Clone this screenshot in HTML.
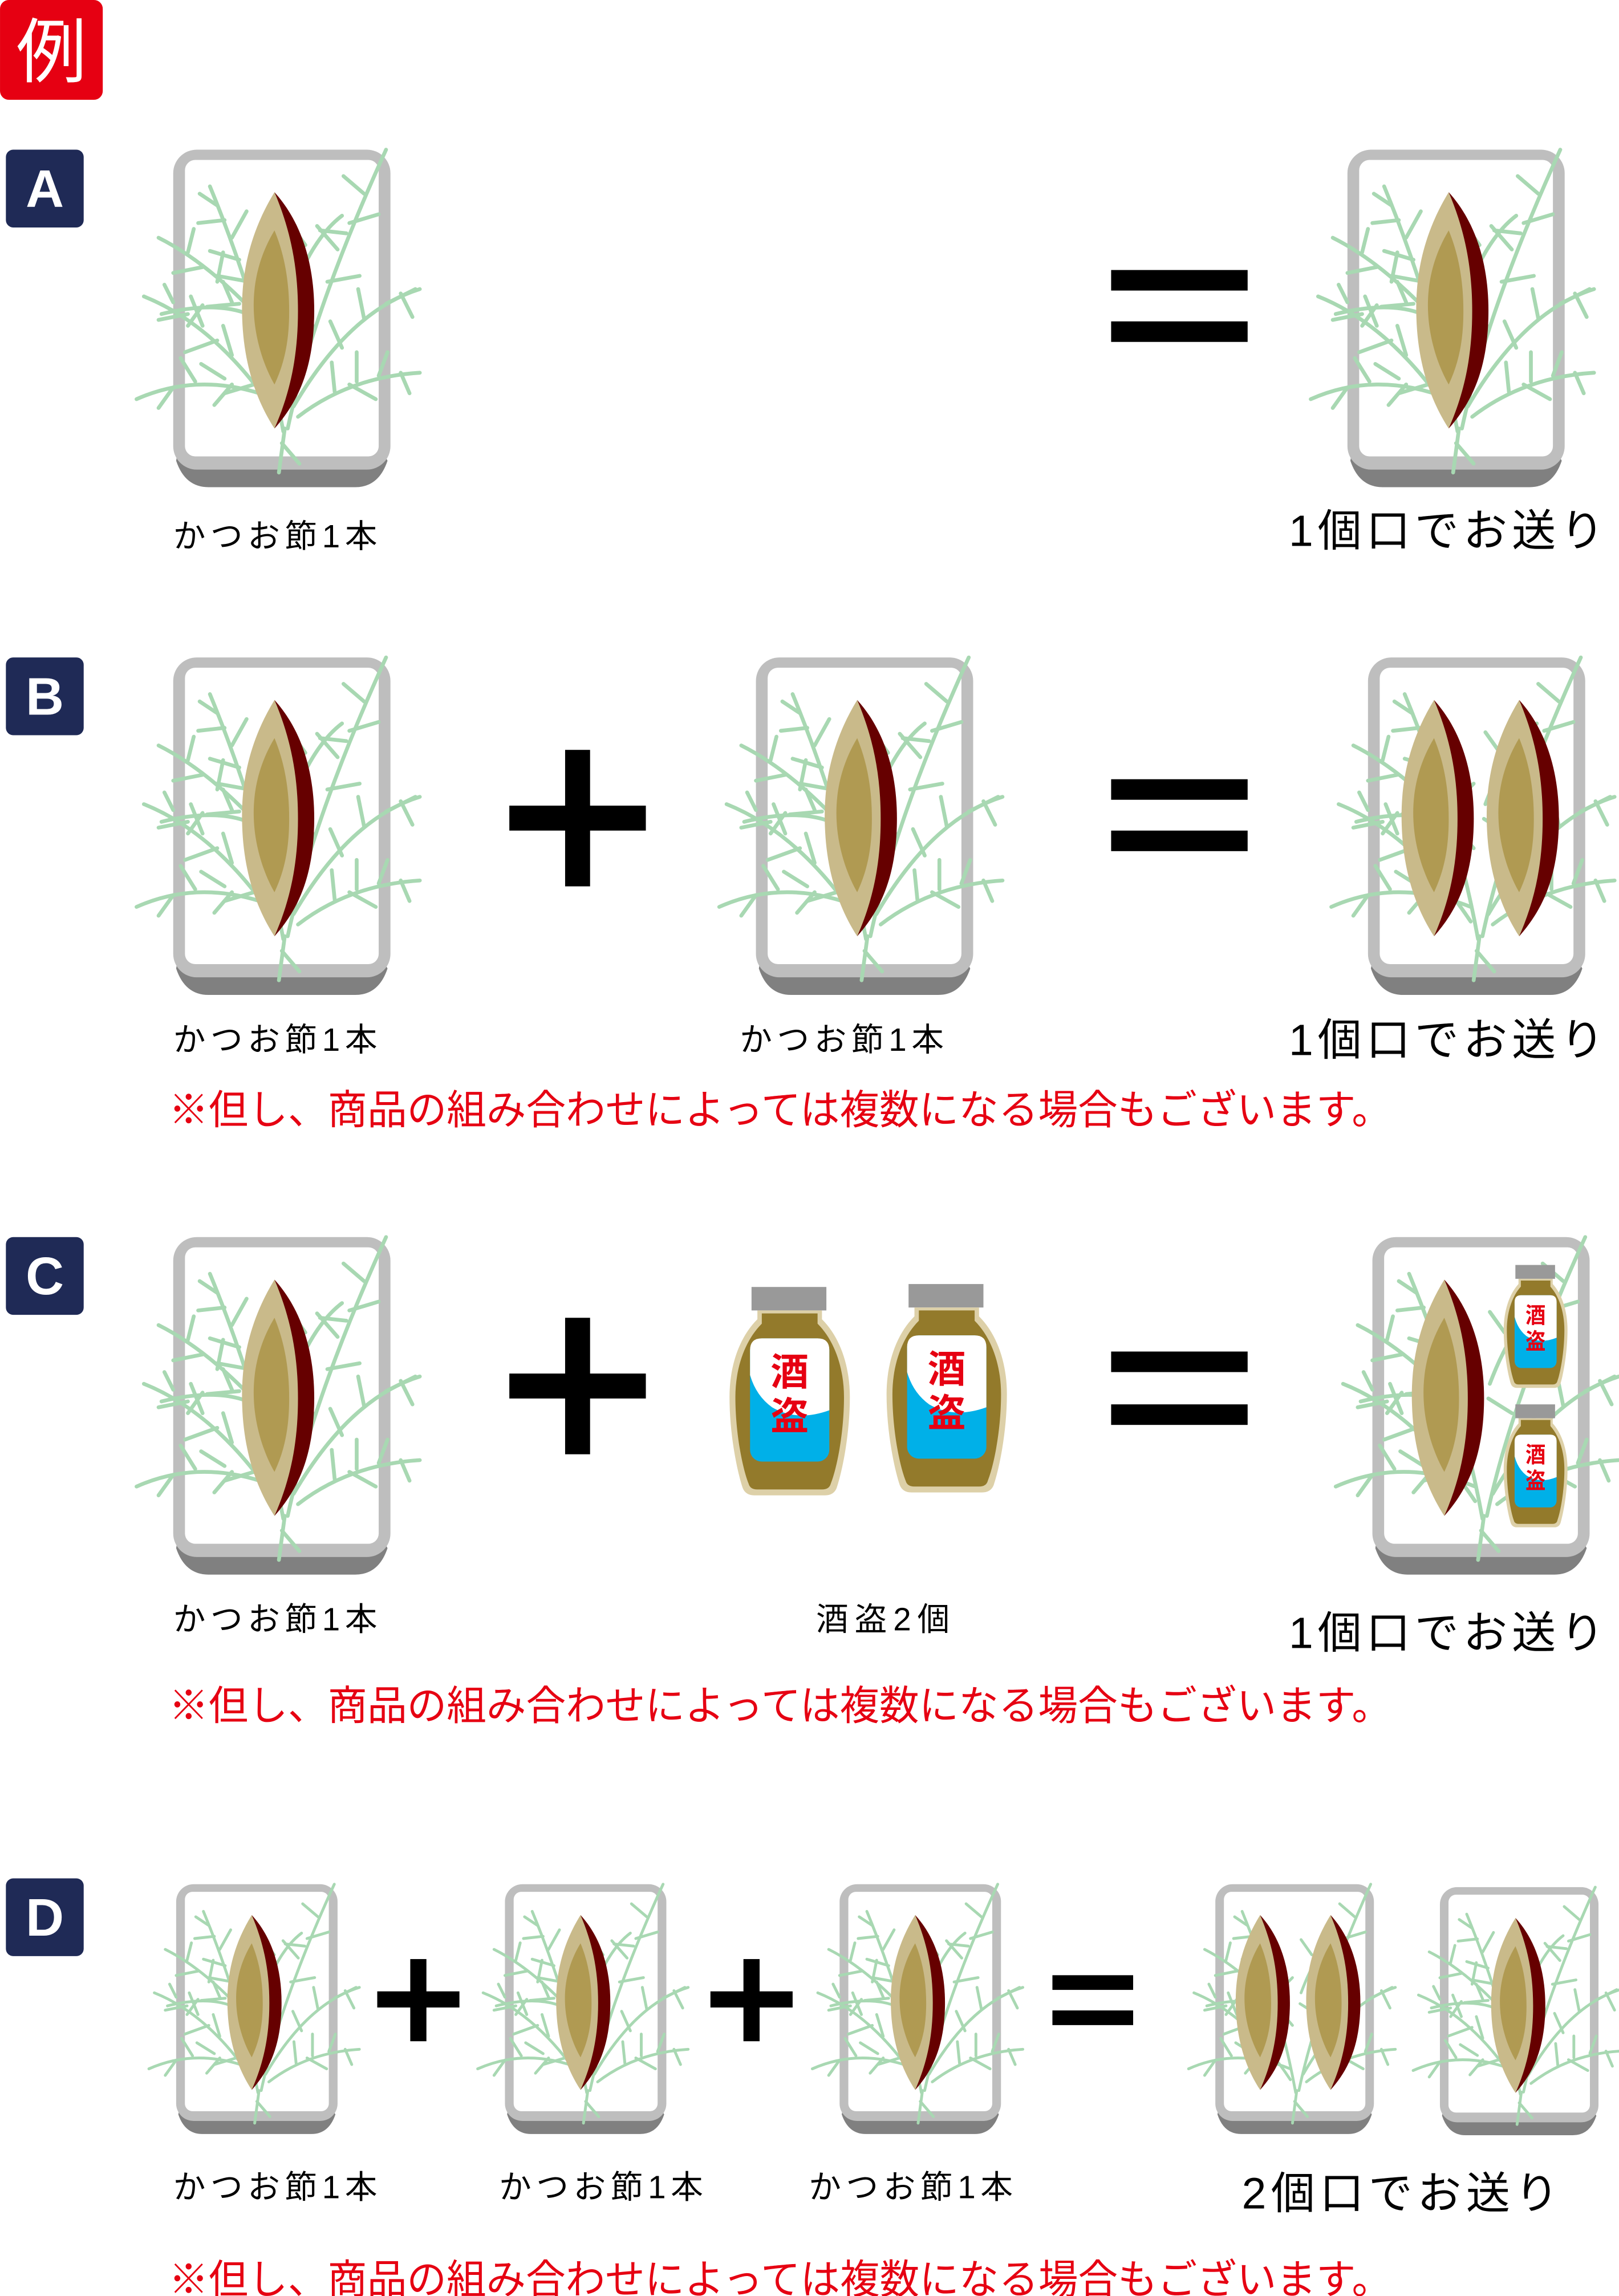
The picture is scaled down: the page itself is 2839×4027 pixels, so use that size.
<!DOCTYPE html>
<html><head><meta charset="utf-8"><style>
html,body{margin:0;padding:0;background:#fff;}
svg{display:block;}
text{font-family:"Liberation Sans","Noto Sans CJK JP",sans-serif;}
</style></head><body>
<svg width="2839" height="4027" viewBox="0 0 1103 1564.6" xmlns="http://www.w3.org/2000/svg">
<defs>
<g id="grass" fill="none" stroke="#A8D8B2" stroke-width="2.6" stroke-linecap="round">
  <path d="M75,192 Q60,110 25,25"/>
  <path d="M45,75 l-20,-6 M40,60 l10,-18 M35,48 l-18,2 M58,100 l14,-14 M30,38 l-12,-8 M52,90 l-22,-4"/>
  <path d="M70,180 Q30,120 -20,100"/>
  <path d="M20,120 l-8,-20 M10,112 l-20,4 M40,140 l-6,-20 M30,130 l-22,8 M55,160 l-20,6 M0,104 l-6,-12"/>
  <path d="M70,170 Q20,150 -25,170"/>
  <path d="M15,158 l-10,-16 M0,162 l-10,14 M35,156 l-16,-10 M40,160 l-12,14"/>
  <path d="M72,130 Q30,80 -10,60"/>
  <path d="M20,80 l-20,4 M30,90 l4,-20 M45,105 l-22,2 M10,70 l4,-16"/>
  <path d="M65,120 Q40,100 -8,112"/>
  <path d="M20,106 l-10,14 M40,104 l-6,-14"/>
  <path d="M78,190 Q95,110 145,0"/>
  <path d="M120,50 l20,-6 M112,68 l-14,-16 M130,30 l-14,-12 M105,90 l22,-4 M95,120 l-16,-10"/>
  <path d="M82,175 Q120,110 168,95"/>
  <path d="M130,115 l-4,-20 M145,105 l20,-10 M115,135 l-8,-18 M155,98 l8,16"/>
  <path d="M85,182 Q120,155 168,152"/>
  <path d="M110,165 l-2,-20 M125,158 l0,-20 M140,154 l6,-16 M155,152 l6,14 M120,160 l18,10"/>
  <path d="M80,100 Q95,60 115,45"/>
  <path d="M90,65 l-10,-14 M100,55 l18,2"/>
  <path d="M76,190 l-4,30 M74,200 l12,14"/>
</g>
<g id="tray">
  <path d="M4,200 L140,200 L146,212 Q140,230 124,230 L24,230 Q8,230 2,212 Z" fill="#808080"/>
  <rect x="0" y="0" width="148" height="218" rx="16" fill="#BEBEBE"/>
  <rect x="8" y="7" width="132" height="202" rx="7" fill="#fff"/>
  <use href="#grass"/>
</g>
<g id="lens">
  <path d="M22,0 C41,21 50,51 49,86 C48,121 38,143 22,161 Z" fill="#660000"/>
  <path d="M22,0 C3,31 -1,61 0,86 C1,116 9,141 22,161 C33,136 38,111 38,81 C38,51 33,26 22,0Z" fill="#C9BA8A"/>
  <path d="M22,26 C10,46 7,66 8,83 C9,101 15,119 22,131 C29,116 32,101 32,81 C32,61 29,43 22,26Z" fill="#B09A52"/>
</g>
<g id="bottle">
  <rect x="14" y="0" width="51" height="16" fill="#999"/>
  <path d="M18,16 L62,16 L62,22 C75,35 81,55 81,75 C81,100 76,125 72,137 Q70,142 64,142 L16,142 Q10,142 8,137 C4,125 -1,100 -1,75 C-1,55 5,35 18,22 Z" fill="#DDD0A8"/>
  <path d="M21,18 L59,18 L59,25 C71,37 77,56 77,75 C77,100 72,124 68,134 Q67,138 62,138 L18,138 Q13,138 12,134 C8,124 3,100 3,75 C3,56 9,37 21,25 Z" fill="#937A2B"/>
  <rect x="13" y="35" width="54" height="84" rx="8" fill="#00B0E8"/>
  <path d="M21,35 L59,35 Q67,35 67,43 L67,84 Q45,92 28,82 Q17,74 13,60 L13,43 Q13,35 21,35Z" fill="#fff"/>
  <text x="40" y="67" font-size="26" fill="#E60012" text-anchor="middle" font-weight="bold">酒</text>
  <text x="40" y="97" font-size="26" fill="#E60012" text-anchor="middle" font-weight="bold">盗</text>
</g>
</defs>

<rect x="0" y="0" width="70" height="68" rx="6" fill="#E60012"/>
<text x="35" y="52" font-size="48" fill="#fff" text-anchor="middle">例</text>
<g font-size="36" font-weight="bold" fill="#fff" text-anchor="middle">
<rect x="4" y="102" width="53" height="53" rx="5" fill="#1F2A56"/><text x="30.5" y="141">A</text>
<rect x="4" y="448" width="53" height="53" rx="5" fill="#1F2A56"/><text x="30.5" y="487">B</text>
<rect x="4" y="843" width="53" height="53" rx="5" fill="#1F2A56"/><text x="30.5" y="882">C</text>
<rect x="4" y="1280" width="53" height="53" rx="5" fill="#1F2A56"/><text x="30.5" y="1319">D</text>
</g>

<use href="#tray" x="118" y="102"/><use href="#lens" x="165" y="131"/>
<rect x="757" y="184" width="93" height="14" fill="#000"/><rect x="757" y="219" width="93" height="14" fill="#000"/>
<use href="#tray" x="918" y="102"/><use href="#lens" x="965" y="131"/>

<use href="#tray" x="118" y="448"/><use href="#lens" x="165" y="477"/>
<rect x="347" y="549" width="93" height="17" fill="#000"/><rect x="385" y="511" width="17" height="93" fill="#000"/>
<use href="#tray" x="515" y="448"/><use href="#lens" x="562" y="477"/>
<rect x="757" y="531" width="93" height="14" fill="#000"/><rect x="757" y="566" width="93" height="14" fill="#000"/>
<use href="#tray" x="932" y="448"/><use href="#lens" x="955" y="477"/><use href="#lens" x="1013" y="477"/>

<use href="#tray" x="118" y="843"/><use href="#lens" x="165" y="872"/>
<rect x="347" y="936" width="93" height="17" fill="#000"/><rect x="385" y="898" width="17" height="93" fill="#000"/>
<use href="#bottle" x="498" y="877"/><use href="#bottle" x="605" y="875"/>
<rect x="757" y="921" width="93" height="14" fill="#000"/><rect x="757" y="957" width="93" height="14" fill="#000"/>
<use href="#tray" x="935" y="843"/><use href="#lens" x="962" y="872"/>
<use href="#bottle" transform="translate(1025,862) scale(0.53,0.59)"/>
<use href="#bottle" transform="translate(1025,957) scale(0.53,0.59)"/>

<use href="#tray" transform="translate(120,1284) scale(0.743,0.74)"/><use href="#lens" transform="translate(155,1305) scale(0.75,0.74)"/>
<rect x="257" y="1357" width="56" height="11" fill="#000"/><rect x="279.5" y="1335" width="11" height="56" fill="#000"/>
<use href="#tray" transform="translate(344,1284) scale(0.743,0.74)"/><use href="#lens" transform="translate(379,1305) scale(0.75,0.74)"/>
<rect x="484" y="1357" width="56" height="11" fill="#000"/><rect x="506.5" y="1335" width="11" height="56" fill="#000"/>
<use href="#tray" transform="translate(572,1284) scale(0.743,0.74)"/><use href="#lens" transform="translate(607,1305) scale(0.75,0.74)"/>
<rect x="717" y="1346" width="55" height="10" fill="#000"/><rect x="717" y="1370" width="55" height="10" fill="#000"/>
<use href="#tray" transform="translate(828,1284) scale(0.73,0.74)"/><use href="#lens" transform="translate(842,1305) scale(0.75,0.74)"/><use href="#lens" transform="translate(890,1305) scale(0.75,0.74)"/>
<use href="#tray" transform="translate(981,1286) scale(0.73,0.735)"/><use href="#lens" transform="translate(1016,1307) scale(0.75,0.74)"/>

<g font-size="22" fill="#000">
<text x="118" y="373" textLength="139" lengthAdjust="spacing">かつお節1本</text>
<text x="118" y="716" textLength="139" lengthAdjust="spacing">かつお節1本</text>
<text x="504" y="716" textLength="139" lengthAdjust="spacing">かつお節1本</text>
<text x="118" y="1111" textLength="139" lengthAdjust="spacing">かつお節1本</text>
<text x="556" y="1111" textLength="91" lengthAdjust="spacing">酒盗2個</text>
<text x="118" y="1498" textLength="139" lengthAdjust="spacing">かつお節1本</text>
<text x="340" y="1498" textLength="139" lengthAdjust="spacing">かつお節1本</text>
<text x="551" y="1498" textLength="139" lengthAdjust="spacing">かつお節1本</text>
</g>
<g font-size="30" fill="#000">
<text x="878" y="372" textLength="215" lengthAdjust="spacing">1個口でお送り</text>
<text x="878" y="719" textLength="215" lengthAdjust="spacing">1個口でお送り</text>
<text x="878" y="1123" textLength="215" lengthAdjust="spacing">1個口でお送り</text>
<text x="846" y="1505" textLength="216" lengthAdjust="spacing">2個口でお送り</text>
</g>
<g font-size="27.8" fill="#E60012">
<text x="115" y="766" textLength="833" lengthAdjust="spacingAndGlyphs">※但し、商品の組み合わせによっては複数になる場合もございます。</text>
<text x="115" y="1172" textLength="833" lengthAdjust="spacingAndGlyphs">※但し、商品の組み合わせによっては複数になる場合もございます。</text>
<text x="115" y="1563" textLength="833" lengthAdjust="spacingAndGlyphs">※但し、商品の組み合わせによって​は複数になる場合もございます。</text>
</g>
</svg>
</body></html>
